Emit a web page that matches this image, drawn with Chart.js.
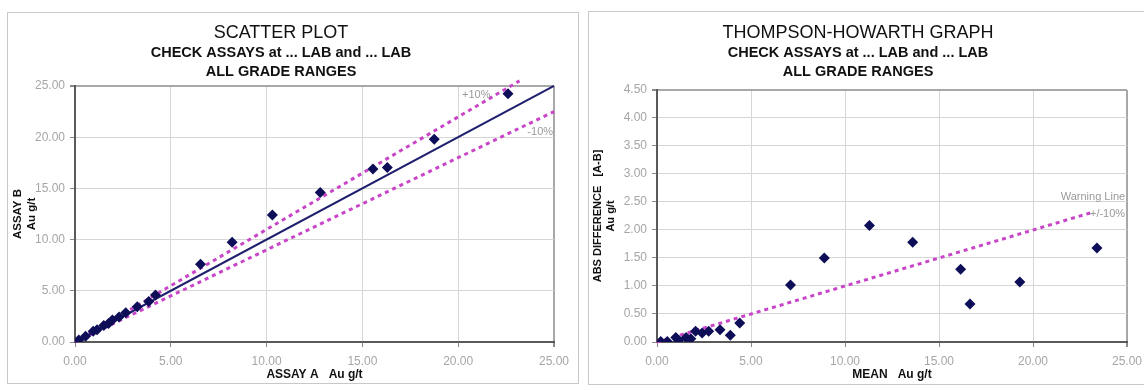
<!DOCTYPE html>
<html>
<head>
<meta charset="utf-8">
<script src="https://cdn.jsdelivr.net/npm/chart.js@4.4.1/dist/chart.umd.min.js"></script>
<style>
  html, body { margin: 0; padding: 0; background: #fff; }
  body { width: 1144px; height: 391px; overflow: hidden; position: relative; }
  .box { position: absolute; border: 1px solid #c8c8c8; background: #fff; }
  #boxA { left: 7px; top: 12px; width: 570px; height: 370px; }
  #boxB { left: 588px; top: 11px; width: 571px; height: 372px; }
  canvas { display: block; }
</style>
</head>
<body>
<div class="box" id="boxA"><canvas id="chartA" width="570" height="370"></canvas></div>
<div class="box" id="boxB"><canvas id="chartB" width="571" height="372"></canvas></div>
<script>
// ---------- DATA ----------
// Scatter plot: Assay A vs Assay B (Au g/t)
const assayA = [0.2, 0.55, 0.95, 1.15, 1.5, 1.75, 1.95, 2.3, 2.65, 3.25, 3.85, 4.2, 6.55, 8.2, 10.3, 12.8, 15.55, 16.3, 18.75, 22.6];
const assayB = [0.2, 0.55, 1.05, 1.2, 1.6, 1.8, 2.15, 2.45, 2.85, 3.45, 3.95, 4.6, 7.6, 9.75, 12.4, 14.6, 16.9, 17.05, 19.8, 24.25];
// reference lines (end points)
const equalLineX = [0, 25];
const equalLineY = [0, 25];
const plus10LineX = [0, 23.2];
const plus10LineY = [0, 25.5];
const minus10LineX = [0, 25];
const minus10LineY = [0, 22.5];

// Thompson-Howarth: mean vs abs difference
const meanAu = [0.2, 0.55, 1.0, 1.15, 1.55, 1.8, 2.05, 2.4, 2.75, 3.35, 3.9, 4.4, 7.1, 8.9, 11.3, 13.6, 16.15, 16.65, 19.3, 23.4];
const absDiff = [0.01, 0.01, 0.08, 0.03, 0.08, 0.06, 0.19, 0.16, 0.19, 0.22, 0.12, 0.34, 1.02, 1.5, 2.08, 1.78, 1.3, 0.68, 1.07, 1.68];
const warningLineX = [0, 23.1];
const warningLineY = [0, 2.31];

// tick labels
const xTickLabels = ['0.00', '5.00', '10.00', '15.00', '20.00', '25.00'];
const yTickLabelsScatter = ['0.00', '5.00', '10.00', '15.00', '20.00', '25.00'];
const yTickLabelsTH = ['0.00', '0.50', '1.00', '1.50', '2.00', '2.50', '3.00', '3.50', '4.00', '4.50'];

// ---------- helpers ----------
const FONT = "'Liberation Sans', Arial, Helvetica, sans-serif";
const NAVY = '#0e0e58';
const MAGENTA = '#c845c8';
const toPts = (xs, ys) => xs.map((x, i) => ({x: x, y: ys[i]}));

const refLabelPlugin = {
  id: 'refLabels',
  afterDatasetsDraw(chart, args, opts) {
    const ctx = chart.ctx;
    const xs = chart.scales.x, ys = chart.scales.y;
    ctx.save();
    ctx.font = '11px ' + FONT;
    ctx.fillStyle = '#9a9a9a';
    ctx.textBaseline = 'middle';
    (opts.items || []).forEach(it => {
      ctx.textAlign = it.align || 'left';
      ctx.fillText(it.text, xs.getPixelForValue(it.x), ys.getPixelForValue(it.y));
    });
    ctx.restore();
  }
};

function gridColor(max) {
  return (c) => (c.tick && Math.abs(c.tick.value - max) < 1e-9) ? '#a8a8a8' : '#d6d6d6';
}
function gridWidth(max) {
  return (c) => (c.tick && Math.abs(c.tick.value - max) < 1e-9) ? 2 : 1;
}

function makeOptions(cfg) {
  return {
    responsive: false,
    animation: false,
    devicePixelRatio: 1,
    layout: { padding: { left: 0, right: cfg.padRight, top: 0, bottom: 0 } },
    plugins: {
      legend: { display: false },
      tooltip: { enabled: false },
      title: {
        display: true, text: cfg.title, color: '#111',
        font: { family: FONT, size: 18, weight: 'normal', lineHeight: 1.2 },
        padding: { top: cfg.titleTop, bottom: 0 }
      },
      subtitle: {
        display: true, text: cfg.subtitle, color: '#111',
        font: { family: FONT, size: 14.5, weight: 'bold', lineHeight: 1.31 },
        padding: { top: 0, bottom: cfg.subBottom }
      },
      refLabels: { items: cfg.labels }
    },
    scales: {
      x: {
        type: 'linear', min: 0, max: 25,
        afterFit: (s) => { s.height = cfg.xHeight; },
        ticks: {
          stepSize: 5, color: '#a6a6a6', padding: 7,
          font: { family: FONT, size: 12 },
          callback: (v, i) => xTickLabels[i]
        },
        grid: { color: gridColor(25), lineWidth: gridWidth(25), drawTicks: true, tickLength: 5, tickColor: '#8a8a8a' },
        border: { display: true, color: '#5a5a5a', width: 2 },
        title: {
          display: true, text: cfg.xTitle, color: '#111',
          font: { family: FONT, size: 12, weight: 'bold', lineHeight: 1.1 },
          padding: { top: 0, bottom: cfg.xTitleBottom }
        }
      },
      y: {
        type: 'linear', min: 0, max: cfg.yMax,
        afterFit: (s) => { s.width = cfg.yWidth; },
        ticks: {
          stepSize: cfg.yStep, color: '#a6a6a6', padding: 5,
          font: { family: FONT, size: 12 },
          callback: (v, i) => cfg.yLabels[i]
        },
        grid: { color: gridColor(cfg.yMax), lineWidth: gridWidth(cfg.yMax), drawTicks: true, tickLength: 5, tickColor: '#8a8a8a' },
        border: { display: true, color: '#5a5a5a', width: 2 },
        title: {
          display: true, text: cfg.yTitle, color: '#111',
          font: { family: FONT, size: cfg.yTitleSize, weight: 'bold', lineHeight: 1.2 },
          padding: { top: cfg.yTitleTop, bottom: 0 }
        }
      }
    }
  };
}

const pointDataset = (data) => ({
  data: data, showLine: false,
  pointStyle: 'rectRot', pointRadius: 5.5,
  backgroundColor: NAVY, borderColor: NAVY, borderWidth: 0
});
const lineDataset = (data, color, width, dash) => ({
  data: data, showLine: true, pointRadius: 0,
  borderColor: color, borderWidth: width, borderDash: dash || [],
  borderCapStyle: 'butt', clip: false, fill: false
});

// ---------- Chart A : scatter plot ----------
new Chart(document.getElementById('chartA'), {
  type: 'scatter',
  data: {
    datasets: [
      pointDataset(toPts(assayA, assayB)),
      lineDataset(toPts(equalLineX, equalLineY), '#1f1f6e', 2),
      lineDataset(toPts(plus10LineX, plus10LineY), MAGENTA, 3, [4, 4]),
      lineDataset(toPts(minus10LineX, minus10LineY), MAGENTA, 3, [4, 4])
    ]
  },
  options: makeOptions({
    title: 'SCATTER PLOT',
    subtitle: ['CHECK ASSAYS at ... LAB and ... LAB', 'ALL GRADE RANGES'],
    titleTop: 9, subBottom: 4.4, padRight: 24,
    xHeight: 41, yWidth: 67, xTitleBottom: 1.4, yTitleTop: 3.2, yTitleSize: 11.5,
    xTitle: 'ASSAY A   Au g/t', yTitle: ['ASSAY B', 'Au g/t'],
    yMax: 25, yStep: 5, yLabels: yTickLabelsScatter,
    labels: [
      { text: '+10%', x: 20.2, y: 24.1, align: 'left' },
      { text: '-10%', x: 24.95, y: 20.5, align: 'right' }
    ]
  }),
  plugins: [refLabelPlugin]
});

// ---------- Chart B : Thompson-Howarth ----------
new Chart(document.getElementById('chartB'), {
  type: 'scatter',
  data: {
    datasets: [
      pointDataset(toPts(meanAu, absDiff)),
      lineDataset(toPts(warningLineX, warningLineY), MAGENTA, 3, [4, 4])
    ]
  },
  options: makeOptions({
    title: 'THOMPSON-HOWARTH GRAPH',
    subtitle: ['CHECK ASSAYS at ... LAB and ... LAB', 'ALL GRADE RANGES'],
    titleTop: 10, subBottom: 8.4, padRight: 33,
    xHeight: 42, yWidth: 68, xTitleBottom: 2.4, yTitleTop: 2.0, yTitleSize: 11,
    xTitle: 'MEAN   Au g/t', yTitle: ['ABS DIFFERENCE   [A-B]', 'Au g/t'],
    yMax: 4.5, yStep: 0.5, yLabels: yTickLabelsTH,
    labels: [
      { text: 'Warning Line', x: 24.9, y: 2.59, align: 'right' },
      { text: '+/-10%', x: 24.9, y: 2.29, align: 'right' }
    ]
  }),
  plugins: [refLabelPlugin]
});
</script>
</body>
</html>
